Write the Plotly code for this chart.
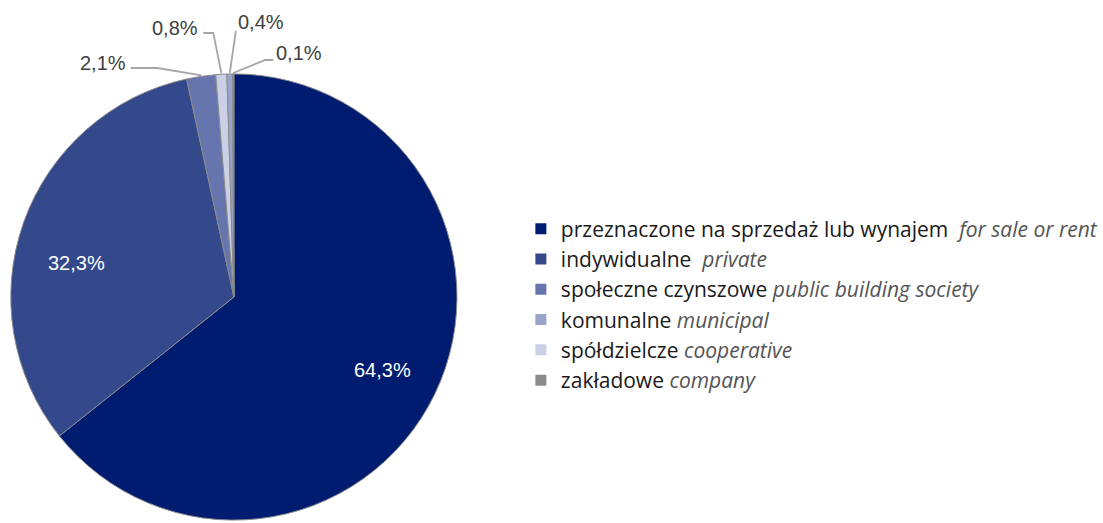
import math
import plotly.graph_objects as go

# ---- data ----
slice_names_pl = ["przeznaczone na sprzedaż lub wynajem", "indywidualne", "społeczne czynszowe",
                  "spółdzielcze", "komunalne", "zakładowe"]
slice_values = [64.3, 32.3, 2.1, 0.8, 0.4, 0.1]
slice_labels = ["64,3%", "32,3%", "2,1%", "0,8%", "0,4%", "0,1%"]
slice_colors = ["#001c70", "#34498c", "#6675ad", "#cbd0e6", "#99a4cb", "#8c8c8c"]

legend_pl = ["przeznaczone na sprzedaż lub wynajem", "indywidualne", "społeczne czynszowe",
             "komunalne", "spółdzielcze", "zakładowe"]
legend_en = ["for sale or rent", "private", "public building society",
             "municipal", "cooperative", "company"]
legend_sep = ["\u00a0\u00a0", "\u00a0\u00a0", " ", " ", " ", " "]
legend_colors = ["#001c70", "#34498c", "#6675ad", "#99a4cb", "#cbd0e6", "#8c8c8c"]

# ---- geometry (pixels) ----
W, H = 1103, 523
CX, CY, R = 238, 298, 225
PAD = 2  # extra domain padding so the drawn radius matches

fig = go.Figure()
fig.add_trace(go.Pie(
    labels=slice_names_pl, values=slice_values, sort=False, direction="clockwise",
    rotation=0, textinfo="none", hoverinfo="label+percent",
    marker=dict(colors=slice_colors, line=dict(color="#8a8a8a", width=1)),
    domain=dict(x=[(CX - R - PAD) / W, (CX + R + PAD) / W],
                y=[0, 1 - (CY - R - PAD) / H]),
    showlegend=False,
))

for name, en, sep, col in zip(legend_pl, legend_en, legend_sep, legend_colors):
    fig.add_trace(go.Scatter(
        x=[None], y=[None], mode="markers",
        marker=dict(symbol="square", size=11, color=col),
        name=f"{name}{sep}<i><span style='color:#555555'>{en}</span></i>",
    ))

total = sum(slice_values)
cum = 0
mids = []
for v in slice_values:
    mids.append((cum + v / 2) / total * 2 * math.pi)
    cum += v

def edge(i, rf=1.0):
    a = mids[i]
    return CX + rf * R * math.sin(a), CY - rf * R * math.cos(a)

annotations = []
shapes = []
# inside labels (radial position + small layout nudge)
inside = {0: (3, 1), 1: (-5, 20)}
for i, (dx, dy) in inside.items():
    x, y = edge(i, 0.73)
    annotations.append(dict(x=x + dx, y=y + dy, xref="x", yref="y", text=slice_labels[i], showarrow=False,
                            font=dict(family="Liberation Sans, Arial", size=20, color="white")))

# outside labels: label position + leader line bend points (layout)
outside = {
    2: dict(pos=(105, 63), path=[(133, 68), (160, 68)]),
    3: dict(pos=(178, 28), path=[(207, 33), (217, 33)]),
    4: dict(pos=(266, 22), path=[(240, 31)]),
    5: dict(pos=(304, 53), path=[(278, 60), (270, 60)]),
}
for i, o in outside.items():
    annotations.append(dict(x=o["pos"][0], y=o["pos"][1], xref="x", yref="y", text=slice_labels[i],
                            showarrow=False,
                            font=dict(family="Liberation Sans, Arial", size=20, color="#404040")))
    pts = o["path"] + [edge(i)]
    d = "M " + " L ".join(f"{px:.1f},{py:.1f}" for px, py in pts)
    shapes.append(dict(type="path", path=d, xref="x", yref="y",
                       line=dict(color="#a6a6a6", width=1.8)))

fig.update_layout(
    width=W, height=H, margin=dict(l=0, r=0, t=0, b=0),
    paper_bgcolor="white", plot_bgcolor="rgba(0,0,0,0)",
    xaxis=dict(range=[0, W], visible=False, domain=[0, 1], fixedrange=True),
    yaxis=dict(range=[H, 0], visible=False, domain=[0, 1], fixedrange=True),
    annotations=annotations, shapes=shapes,
    legend=dict(x=530 / W, xanchor="left", y=1 - 304.5 / H, yanchor="middle",
                font=dict(family="Open Sans", size=21, color="#1a1a1a"),
                tracegroupgap=0, traceorder="normal", bgcolor="rgba(0,0,0,0)"),
    showlegend=True,
)

fig.write_html("out.html", config={"displayModeBar": False},
               post_script="document.body.style.margin='0';")
